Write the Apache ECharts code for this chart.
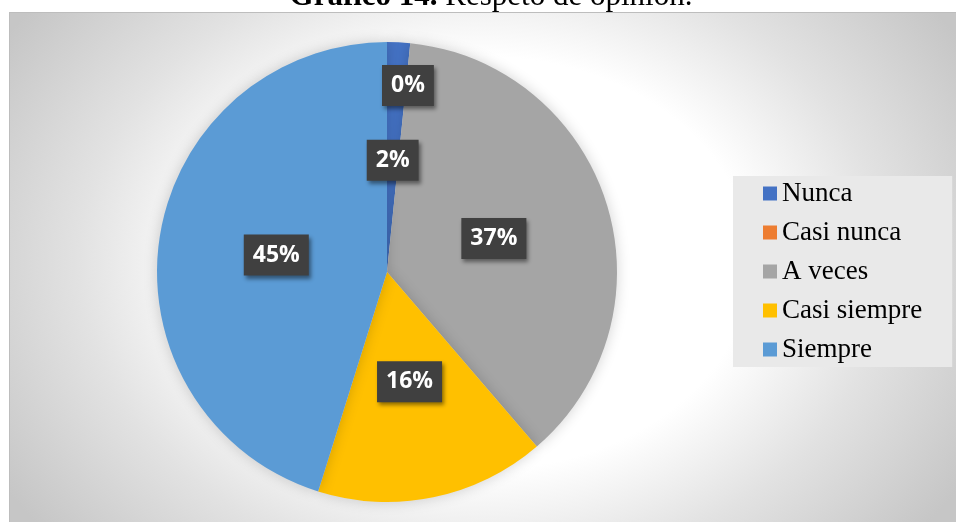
<!DOCTYPE html>
<html>
<head>
<meta charset="utf-8">
<script src="https://cdn.jsdelivr.net/npm/echarts@6/dist/echarts.min.js"></script>
<style>
  html, body { margin: 0; padding: 0; background: #fff; }
  #wrap { position: relative; width: 956px; height: 522px; overflow: hidden; }
  #area {
    position: absolute; left: 9px; top: 12px; right: 0; bottom: 0;
    border-top: 1px solid #bdbdbd; border-left: 1px solid #bdbdbd;
    background: radial-gradient(ellipse 560px 430px at 472px 250px, #ffffff 0%, #ffffff 48%, #e2e2e2 72%, #c6c6c6 100%);
  }
  #main { position: absolute; left: 0; top: 0; width: 956px; height: 522px; }
</style>
</head>
<body>
<div id="wrap">
  <div id="area"></div>
  <div id="main"></div>
</div>
<script>
// respuestas (conteo) por categoria
var categorias = ['Nunca', 'Casi nunca', 'A veces', 'Casi siempre', 'Siempre'];
var conteos = [1, 0, 23, 10, 28];
var colores = ['#4472C4', '#ED7D31', '#A5A5A5', '#FFC000', '#5B9BD5'];

var centro = [387, 272];
var radioEtiqueta = 112;

var chart = echarts.init(document.getElementById('main'), null, { renderer: 'canvas' });

var datos = categorias.map(function (nombre, i) {
    return { name: nombre, value: conteos[i], itemStyle: { color: colores[i] } };
});

var option = {
    backgroundColor: 'transparent',
    animation: false,
    title: {
        text: '{b|Gráfico 14.}{r| Respeto de opinión.}',
        left: 486,
        textAlign: 'center',
        top: -24,
        textStyle: {
            rich: {
                b: { fontFamily: 'Liberation Serif', fontSize: 31, fontWeight: 'bold', color: '#000', lineHeight: 32 },
                r: { fontFamily: 'Liberation Serif', fontSize: 31, fontWeight: 'normal', color: '#000', lineHeight: 32 }
            }
        }
    },
    legend: {
        orient: 'vertical',
        left: 733,
        top: 176,
        padding: [4, 30, 4, 30],
        backgroundColor: '#e9e9e9',
        itemWidth: 14,
        itemHeight: 14,
        itemGap: 12,
        icon: 'rect',
        data: categorias,
        textStyle: {
            fontFamily: 'Liberation Serif',
            fontSize: 27,
            lineHeight: 27,
            color: '#000'
        }
    },
    series: [
        {
            type: 'pie',
            center: centro,
            radius: 230,
            startAngle: 90,
            clockwise: true,
            avoidLabelOverlap: false,
            data: datos,
            itemStyle: {
                shadowBlur: 14,
                shadowColor: 'rgba(0,0,0,0.18)'
            },
            label: {
                show: true,
                position: 'inside',
                formatter: function (p) {
                    return Math.round(p.percent) + '%';
                },
                fontFamily: 'Open Sans',
                fontWeight: 'bold',
                fontSize: 23,
                lineHeight: 23,
                color: '#fff',
                backgroundColor: '#404040',
                padding: [9, 9],
                shadowBlur: 4,
                shadowOffsetX: 2,
                shadowOffsetY: 3,
                shadowColor: 'rgba(0,0,0,0.45)'
            },
            labelLine: { show: false },
            labelLayout: function (params) {
                // Excel movio la etiqueta del 0% hacia afuera
                if (params.dataIndex === 1) {
                    return { dx: 9, dy: -69 };
                }
                var r = params.labelRect;
                var x = r.x + r.width / 2 - centro[0];
                var y = r.y + r.height / 2 - centro[1];
                var d = Math.sqrt(x * x + y * y) || 1;
                var k = radioEtiqueta / d - 1;
                return { dx: x * k, dy: y * k };
            },
            emphasis: { disabled: true }
        }
    ]
};

chart.setOption(option);
</script>
</body>
</html>
